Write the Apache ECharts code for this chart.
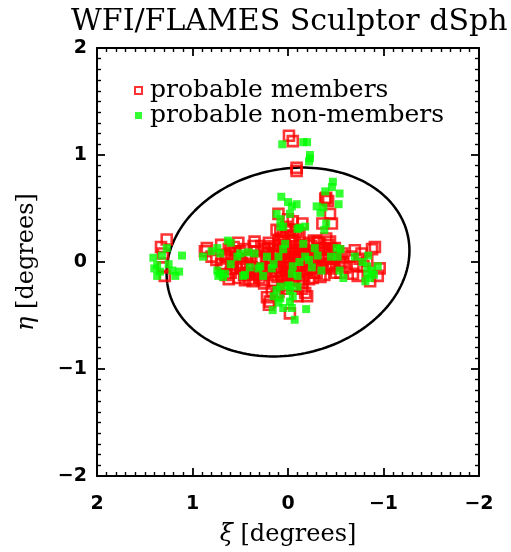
<!DOCTYPE html>
<html>
<head>
<meta charset="utf-8">
<script src="https://cdn.jsdelivr.net/npm/echarts@6/dist/echarts.min.js"></script>
<style>
  html, body { margin: 0; padding: 0; background: #fff; }
  #chart { width: 511px; height: 552px; }
</style>
</head>
<body>
<div id="chart"></div>
<script>
// axis ticks
const xTicks = [2, 1, 0, -1, -2];
const yTicks = [-2, -1, 0, 1, 2];

// probable members [xi, eta] in degrees
const members = [
  [-0.01, 1.18], [-0.05, 1.13], [-0.09, 0.88], [-0.09, 0.85],
  [-0.39, 0.59], [-0.42, 0.57], [-0.40, 0.60], [-0.44, 0.45], [-0.46, 0.36], [-0.36, 0.36],
  [0.10, 0.45], [0.00, 0.40], [-0.05, 0.38], [-0.15, 0.36], [0.02, 0.33], [-0.08, 0.30],
  [0.12, 0.30], [-0.12, 0.25], [0.05, 0.25],
  [1.27, 0.21], [1.33, 0.14], [1.31, 0.08], [1.29, -0.13], [1.31, -0.05],
  [0.85, 0.13], [0.87, 0.10], [0.80, 0.05], [0.63, 0.05], [0.58, -0.03], [0.50, -0.04],
  [0.47, -0.04], [0.35, 0.19], [0.37, -0.18], [0.48, -0.01], [0.43, -0.02], [0.75, 0.02],
  [0.68, -0.06], [0.60, -0.10], [0.55, 0.10], [0.45, 0.12], [0.40, 0.05], [0.33, 0.10],
  [0.30, -0.08], [0.42, -0.10], [0.52, -0.15], [0.38, -0.05], [0.28, 0.02], [0.25, 0.12],
  [0.22, -0.05], [0.20, 0.08], [0.65, -0.12], [0.60, 0.08], [0.57, 0.14], [0.50, 0.10],
  [0.46, -0.12], [0.40, -0.16], [0.33, -0.12], [0.28, 0.15], [0.62, -0.16], [0.54, -0.06],
  [0.32, 0.03], [0.35, -0.11], [0.27, -0.17], [0.44, 0.03], [0.58, 0.02], [0.66, 0.06],
  [0.70, -0.02], [0.62, 0.12], [0.52, 0.18], [0.45, -0.17], [0.70, 0.16], [0.36, 0.15],
  [0.15, 0.15], [0.10, 0.10], [0.05, 0.05], [0.00, 0.00], [-0.05, -0.05], [-0.10, 0.08],
  [-0.15, -0.02], [0.08, -0.08], [0.12, 0.02], [0.18, -0.12], [0.02, 0.15], [-0.03, 0.20],
  [0.06, -0.15], [-0.08, -0.12], [-0.12, 0.15], [-0.18, 0.05], [-0.20, -0.08], [-0.25, 0.10],
  [-0.28, 0.00], [-0.22, 0.18], [0.15, -0.18], [0.10, 0.20], [0.00, -0.10], [-0.02, 0.08],
  [0.04, -0.02], [-0.07, 0.02], [0.13, 0.06], [0.17, 0.00], [0.24, -0.10], [0.20, 0.18],
  [-0.30, -0.10], [-0.33, 0.05], [-0.35, -0.05], [-0.38, 0.12], [-0.40, -0.02], [-0.42, 0.08],
  [-0.45, -0.06], [-0.48, 0.03], [-0.50, -0.10], [-0.52, 0.10], [-0.55, 0.00], [-0.32, 0.18],
  [-0.26, -0.15], [-0.15, -0.20], [-0.05, -0.22], [0.03, -0.25], [0.10, -0.28], [-0.10, 0.28],
  [0.08, 0.28], [-0.02, 0.30],
  [0.14, 0.12], [0.12, -0.05], [0.09, 0.16], [0.07, -0.12], [0.06, 0.08], [0.03, 0.11],
  [0.01, -0.05], [-0.01, 0.04], [-0.03, -0.08], [-0.04, 0.13], [-0.06, -0.16], [-0.08, 0.05],
  [-0.09, -0.03], [-0.11, 0.11], [-0.13, -0.09], [-0.14, 0.04], [-0.16, 0.12], [-0.17, -0.13],
  [-0.19, 0.00], [-0.21, 0.09], [-0.23, -0.06], [-0.24, 0.15], [-0.26, 0.03], [-0.27, -0.10],
  [-0.29, 0.08], [-0.31, -0.03], [-0.33, 0.12], [-0.34, -0.14], [-0.36, 0.02], [0.11, -0.14],
  [0.16, 0.08], [0.19, -0.02], [0.21, 0.13], [0.23, 0.04], [0.26, -0.06], [0.04, 0.19],
  [-0.01, -0.17], [-0.07, 0.18], [-0.12, -0.18], [-0.20, 0.16], [-0.22, -0.16], [0.08, 0.00],
  [-0.02, -0.01], [-0.16, 0.07], [-0.10, -0.07], [0.02, -0.13], [0.13, -0.09], [-0.27, 0.20],
  [-0.05, 0.24], [0.07, 0.22],
  [0.19, -0.37], [0.06, -0.22], [-0.02, -0.48], [-0.18, -0.29], [-0.20, -0.32], [0.17, -0.27],
  [0.22, -0.33], [0.20, -0.40], [0.12, -0.30], [-0.10, -0.32], [-0.15, -0.25], [0.25, -0.20],
  [0.30, -0.15],
  [-0.31, 0.19], [-0.36, 0.13], [-0.44, 0.19], [-0.49, 0.13], [-0.44, -0.04], [-0.47, -0.03],
  [-0.58, 0.00], [-0.55, -0.10], [-0.38, -0.12], [-0.42, 0.16], [-0.46, 0.12], [-0.50, 0.05],
  [-0.53, -0.03], [-0.40, 0.22], [-0.57, 0.08], [-0.60, -0.05],
  [-0.65, 0.05], [-0.70, 0.11], [-0.75, 0.03], [-0.72, -0.04], [-0.73, -0.13], [-0.68, -0.11],
  [-0.79, -0.04], [-0.83, 0.01], [-0.88, 0.12], [-0.91, 0.14], [-0.96, -0.06], [-0.94, -0.13],
  [-0.86, -0.18], [-0.77, 0.08]
];

// probable non-members [xi, eta] in degrees
const nonMembers = [
  [0.06, 1.10], [-0.16, 1.12], [-0.20, 1.12], [-0.23, 1.00], [-0.23, 0.97], [-0.22, 0.94],
  [-0.47, 0.75], [-0.46, 0.70], [-0.39, 0.66], [-0.54, 0.64], [-0.53, 0.54], [-0.30, 0.52],
  [-0.37, 0.51], [-0.34, 0.46], [-0.40, 0.36], [-0.38, 0.30],
  [0.07, 0.61], [0.00, 0.56], [-0.04, 0.52], [-0.09, 0.54], [0.12, 0.45], [0.05, 0.33],
  [-0.12, 0.32], [0.08, 0.40], [-0.02, 0.45], [-0.16, 0.17], [-0.10, 0.31], [-0.18, 0.33],
  [0.03, 0.17], [0.08, 0.33],
  [1.41, 0.04], [1.37, -0.03], [1.34, -0.09], [1.37, -0.13], [1.27, 0.13], [1.21, -0.08],
  [1.14, -0.09], [1.18, -0.13], [1.11, 0.06], [1.32, 0.06], [1.40, -0.06], [1.25, -0.02],
  [0.89, 0.05], [0.74, 0.13], [0.71, 0.08], [0.63, 0.20], [0.74, -0.08], [0.71, -0.11],
  [0.66, -0.11], [0.73, -0.13], [0.50, 0.08], [0.53, 0.05], [0.47, -0.13], [0.45, -0.12],
  [0.31, -0.06], [0.29, -0.04], [0.35, 0.08], [0.26, -0.13], [0.80, 0.10], [0.68, -0.14],
  [0.60, 0.18], [0.42, 0.09], [0.22, 0.05], [0.17, -0.06], [0.40, -0.05], [0.60, -0.02],
  [-0.31, 0.06], [-0.28, 0.13], [-0.18, 0.05], [-0.05, -0.04], [-0.04, -0.11], [-0.10, -0.13],
  [-0.02, -0.22], [0.08, -0.23], [0.10, 0.05], [-0.22, 0.02], [-0.12, 0.00], [0.05, 0.12],
  [-0.25, -0.05], [0.15, -0.02], [-0.35, -0.08],
  [-0.51, 0.13], [-0.52, 0.05], [-0.54, -0.08], [-0.45, 0.05], [-0.58, -0.15], [-0.55, 0.12],
  [-0.70, 0.05], [-0.84, 0.06], [-0.83, -0.04], [-0.83, -0.11], [-0.86, -0.15], [-0.94, -0.04],
  [-0.88, -0.08], [-0.81, -0.18], [-0.78, 0.00], [-0.90, -0.12],
  [0.12, -0.26], [0.00, -0.22], [-0.10, -0.23], [-0.02, -0.27], [0.08, -0.34], [-0.02, -0.37],
  [0.05, -0.43], [-0.04, -0.43], [0.16, -0.45], [-0.07, -0.54], [-0.19, -0.44], [0.10, -0.38],
  [-0.05, -0.32], [0.15, -0.32]
];

// tidal ellipse: semi-axes (deg) and tilt of major axis (deg)
const ellA = 1.28;
const ellB = 0.87;
const ellTilt = -9;

let ellipse = [];
let phi = ellTilt * Math.PI / 180;
for (let i = 0; i <= 180; i++) {
  let t = i / 180 * 2 * Math.PI;
  let u = ellA * Math.cos(t), v = ellB * Math.sin(t);
  ellipse.push([u * Math.cos(phi) - v * Math.sin(phi), u * Math.sin(phi) + v * Math.cos(phi)]);
}

const minus = function (v) { return String(v).replace('-', '\u2212'); };

const chart = echarts.init(document.getElementById('chart'));

const axisCommon = {
  type: 'value',
  min: -2,
  max: 2,
  interval: 1,
  splitLine: { show: false },
  axisLine: { show: true, onZero: false, lineStyle: { color: '#000', width: 2 } },
  axisTick: { show: true, inside: true, length: 8, lineStyle: { color: '#000', width: 1.8 } },
  minorTick: { show: true, splitNumber: 10, length: 4, lineStyle: { color: '#000', width: 1.4 } }
};

const nameStyle = {
  fontFamily: 'DejaVu Serif', fontSize: 24, color: '#000',
  rich: { g: { fontFamily: 'DejaVu Serif', fontStyle: 'italic', fontSize: 24, color: '#000' } }
};

chart.setOption({
  backgroundColor: '#fff',
  animation: false,
  title: {
    text: 'WFI/FLAMES Sculptor dSph',
    left: 66,
    top: 2,
    textStyle: { fontFamily: 'DejaVu Serif', fontWeight: 'normal', fontSize: 30, color: '#000' }
  },
  legend: {
    orient: 'vertical',
    left: 129,
    top: 73,
    itemWidth: 7,
    itemHeight: 7,
    itemGap: 0,
    textStyle: { fontFamily: 'DejaVu Serif', fontSize: 25, color: '#000', padding: [0, 0, 0, 3] },
    data: [
      { name: 'probable members', icon: 'rect', itemStyle: { color: '#fff', borderColor: '#ff0000', borderWidth: 2 } },
      { name: 'probable non-members', icon: 'rect', itemStyle: { color: '#00ff00' } }
    ]
  },
  grid: { left: 97, right: 32, top: 48, bottom: 73 },
  xAxis: [
    Object.assign({}, axisCommon, {
      position: 'bottom',
      inverse: true,
      name: '{g|ξ} [degrees]',
      nameLocation: 'middle',
      nameGap: 47,
      nameTextStyle: nameStyle,
      axisLabel: {
        margin: 19, formatter: minus,
        fontFamily: 'DejaVu Sans', fontWeight: 'bold', fontSize: 19, color: '#000'
      }
    }),
    Object.assign({}, axisCommon, {
      position: 'top',
      inverse: true,
      axisLabel: { show: false }
    })
  ],
  yAxis: [
    Object.assign({}, axisCommon, {
      position: 'left',
      name: '{g|η} [degrees]',
      nameLocation: 'middle',
      nameRotate: 90,
      nameGap: 58,
      nameTextStyle: nameStyle,
      axisLabel: {
        margin: 10, formatter: minus,
        fontFamily: 'DejaVu Sans', fontWeight: 'bold', fontSize: 19, color: '#000'
      }
    }),
    Object.assign({}, axisCommon, {
      position: 'right',
      axisLabel: { show: false }
    })
  ],
  series: [
    {
      name: 'tidal radius',
      type: 'line',
      data: ellipse,
      showSymbol: false,
      lineStyle: { color: '#000', width: 2.5 },
      z: 1
    },
    {
      name: 'probable members',
      type: 'scatter',
      data: members,
      symbol: 'rect',
      symbolSize: 10,
      itemStyle: { color: 'rgba(255,255,255,0)', borderColor: '#ff0000', borderWidth: 2.6 },
      z: 2
    },
    {
      name: 'probable non-members',
      type: 'scatter',
      data: nonMembers,
      symbol: 'rect',
      symbolSize: 8,
      itemStyle: { color: '#00ff00' },
      z: 3
    }
  ]
});
</script>
</body>
</html>
